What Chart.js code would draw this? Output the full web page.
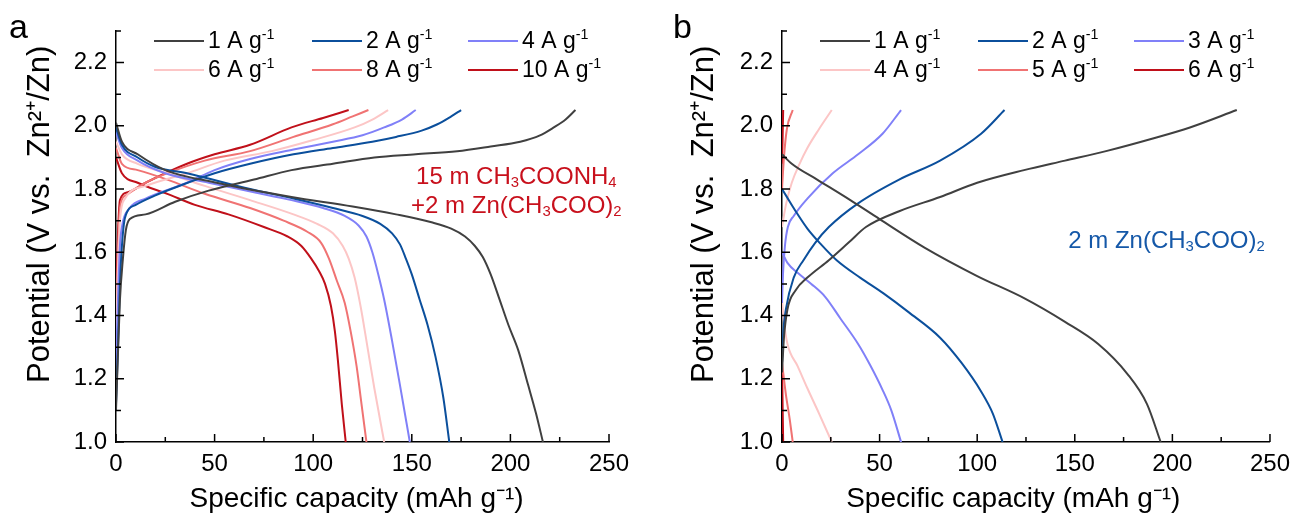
<!DOCTYPE html>
<html>
<head>
<meta charset="utf-8">
<script src="https://cdn.jsdelivr.net/npm/chart.js@4.4.1/dist/chart.umd.min.js"></script>
<style>
  body { margin: 0; background: #fff; width: 1298px; height: 521px; overflow: hidden; position: relative; font-family: "Liberation Sans", Arial, sans-serif; }
  .panel { position: absolute; top: 0; width: 649px; height: 521px; }
  .letter { position: absolute; top: 9px; font-size: 34px; line-height: 1; color: #000; }
</style>
</head>
<body>
<div class="panel" style="left:0"><canvas id="chartA" width="649" height="521"></canvas></div>
<div class="panel" style="left:649px"><canvas id="chartB" width="649" height="521"></canvas></div>
<div class="letter" style="left:9px">a</div>
<div class="letter" style="left:673px">b</div>
<script>
// axes
const xTicks = [0, 50, 100, 150, 200, 250];
const xMinor = [25, 75, 125, 175, 225];
const yTicks = [1.0, 1.2, 1.4, 1.6, 1.8, 2.0, 2.2];
const yMinor = [1.1, 1.3, 1.5, 1.7, 1.9, 2.1, 2.3];
const xTitle = "Specific capacity (mAh g⁻¹)";
const yTitle = "Potential (V vs.  Zn²⁺/Zn)";

const colors = ["#404040", "#0b4f9c", "#8080f8", "#fcc6c6", "#f07373", "#c0101a"];

// panel a : 15 m CH3COONH4 + 2 m Zn(CH3COO)2  -- [capacity, potential]
const ratesA = ["1 A g^{-1}", "2 A g^{-1}", "4 A g^{-1}", "6 A g^{-1}", "8 A g^{-1}", "10 A g^{-1}"];
const a1Dis = [[0,2.01],[3,1.95],[11,1.91],[25,1.86],[51,1.82],[89,1.775],[120,1.745],[142,1.72],[160,1.695],[170,1.675],[177,1.65],[182,1.62],[186,1.585],[190,1.53],[194,1.46],[199,1.37],[204,1.29],[209,1.18],[213,1.09],[216.5,1.0]];
const a1Chg = [[0,1.10],[1,1.28],[2,1.45],[3.5,1.58],[5,1.67],[7,1.705],[15,1.72],[30,1.76],[47,1.795],[70,1.83],[89,1.86],[110,1.88],[131,1.90],[152,1.91],[173,1.92],[190,1.935],[205,1.95],[215,1.97],[222,1.995],[228,2.02],[233,2.05]];
const a2Dis = [[0,1.995],[3,1.94],[11,1.90],[20,1.87],[36,1.85],[68,1.80],[90,1.77],[110,1.74],[125,1.715],[134,1.69],[140,1.66],[144,1.625],[147,1.58],[150,1.53],[154,1.45],[158,1.37],[162,1.27],[166,1.14],[169,1.0]];
const a2Chg = [[0,1.12],[1,1.30],[2,1.50],[3,1.62],[4.6,1.71],[10,1.75],[20,1.78],[30,1.805],[50,1.85],[68,1.88],[90,1.91],[110,1.93],[130,1.95],[142,1.965],[155,1.985],[163,2.005],[170,2.03],[175,2.05]];
const a4Dis = [[0,1.98],[3,1.93],[11,1.89],[25,1.85],[47,1.82],[70,1.79],[89,1.765],[105,1.74],[116,1.715],[123,1.685],[127,1.65],[130,1.60],[133,1.53],[136,1.45],[140,1.32],[144,1.18],[149,1.0]];
const a4Chg = [[0,1.24],[1,1.45],[2,1.62],[3,1.68],[7,1.74],[15,1.77],[36,1.82],[50,1.86],[68,1.895],[90,1.925],[110,1.95],[125,1.97],[136,1.995],[145,2.02],[152,2.05]];
const a6Dis = [[0,1.95],[3,1.91],[11,1.88],[26,1.85],[45,1.81],[68,1.765],[90,1.72],[102,1.69],[110,1.66],[115,1.62],[118,1.58],[121,1.52],[124,1.43],[127,1.32],[131,1.17],[136,1.0]];
const a6Chg = [[0,1.32],[1,1.55],[2,1.70],[4.6,1.77],[15,1.81],[36,1.85],[55,1.89],[79,1.92],[100,1.955],[121,1.995],[130,2.02],[138,2.05]];
const a8Dis = [[0,1.93],[3,1.88],[11,1.86],[26,1.83],[45,1.785],[68,1.74],[85,1.70],[97,1.665],[104,1.63],[108,1.58],[112,1.51],[116,1.44],[119,1.35],[122,1.24],[124.5,1.12],[127,1.0]];
const a8Chg = [[0,1.38],[1,1.60],[2,1.74],[5,1.78],[15,1.82],[26,1.85],[45,1.89],[68,1.92],[90,1.965],[110,2.005],[120,2.03],[128,2.05]];
const a10Dis = [[0,1.90],[3,1.85],[11,1.82],[26,1.785],[40,1.75],[57,1.72],[75,1.68],[87,1.65],[94,1.62],[99,1.58],[103,1.54],[106,1.50],[109,1.43],[111,1.35],[112.5,1.26],[114.5,1.12],[116.5,1.0]];
const a10Chg = [[0,1.45],[1,1.66],[2,1.765],[6,1.79],[15,1.82],[36,1.88],[50,1.91],[68,1.94],[89,1.995],[105,2.025],[118,2.05]];

// panel b : 2 m Zn(CH3COO)2
const ratesB = ["1 A g^{-1}", "2 A g^{-1}", "3 A g^{-1}", "4 A g^{-1}", "5 A g^{-1}", "6 A g^{-1}"];
const b1Dis = [[0,1.91],[5,1.88],[18,1.83],[35,1.765],[50,1.705],[73,1.615],[100,1.525],[124,1.455],[145,1.38],[162,1.31],[177,1.215],[187,1.12],[194,1.0]];
const b1Chg = [[0,1.22],[1,1.33],[2.8,1.42],[7,1.48],[13,1.52],[24,1.575],[34,1.63],[43,1.68],[60,1.73],[81,1.775],[100,1.82],[124,1.86],[145,1.89],[166,1.92],[190,1.96],[209,1.995],[233,2.05]];
const b2Dis = [[0,1.80],[2,1.78],[7,1.73],[13,1.675],[20,1.625],[28,1.575],[40,1.52],[52,1.47],[65,1.41],[81,1.33],[92,1.25],[102,1.16],[108,1.09],[113,1.0]];
const b2Chg = [[0,1.25],[0.7,1.35],[2,1.42],[6,1.52],[11,1.575],[17,1.63],[24,1.68],[39,1.755],[60,1.83],[81,1.89],[102,1.975],[114,2.05]];
const b3Dis = [[0,1.60],[3,1.565],[8,1.535],[15,1.50],[22,1.46],[30,1.39],[39,1.31],[45,1.245],[51.5,1.165],[56,1.10],[61,1.0]];
const b3Chg = [[0,1.44],[0.5,1.53],[1.5,1.62],[3,1.68],[6,1.715],[13,1.77],[26,1.85],[39,1.91],[51.5,1.975],[61,2.05]];
const b4Dis = [[0,1.45],[1,1.38],[2.8,1.31],[8,1.24],[13,1.17],[19,1.09],[25.5,1.0]];
const b4Chg = [[0,1.68],[2,1.75],[5,1.82],[9,1.88],[13,1.93],[19,1.99],[25.5,2.05]];
const b5Dis = [[0,1.25],[2,1.15],[4,1.07],[5.5,1.0]];
const b5Chg = [[0,1.80],[1,1.90],[2.5,1.99],[5.5,2.05]];
const b6Dis = [[0,1.25],[0.3,1.12],[0.6,1.0]];
const b6Chg = [[0,1.88],[0.3,1.96],[0.6,2.05]];

const curvesA = [[a1Dis, a1Chg], [a2Dis, a2Chg], [a4Dis, a4Chg], [a6Dis, a6Chg], [a8Dis, a8Chg], [a10Dis, a10Chg]];
const curvesB = [[b1Dis, b1Chg], [b2Dis, b2Chg], [b3Dis, b3Chg], [b4Dis, b4Chg], [b5Dis, b5Chg], [b6Dis, b6Chg]];

Chart.defaults.font.family = "'Liberation Sans', Arial, sans-serif";
Chart.defaults.color = "#000";

// text with _{sub} and ^{sup}
function richText(ctx, str, x, y, size, align, color) {
  const parts = [];
  str.replace(/([_^])\{([^}]*)\}|([^_^]+)/g, (m, k, s, t) => { parts.push(t ? { t: t, k: "" } : { t: s, k: k }); });
  let w = 0;
  parts.forEach(p => {
    p.size = p.k ? size * 0.62 : size;
    ctx.font = p.size + "px 'Liberation Sans', Arial, sans-serif";
    p.w = ctx.measureText(p.t).width;
    w += p.w;
  });
  let cx = align === "center" ? x - w / 2 : x;
  ctx.fillStyle = color;
  ctx.textAlign = "left";
  ctx.textBaseline = "alphabetic";
  parts.forEach(p => {
    ctx.font = p.size + "px 'Liberation Sans', Arial, sans-serif";
    const dy = p.k === "_" ? size * 0.12 : p.k === "^" ? -size * 0.4 : 0;
    ctx.fillText(p.t, cx, y + dy);
    cx += p.w;
  });
}

// inward ticks, axis titles, legend and notes
const decor = {
  id: "decor",
  afterDraw(chart, args, opts) {
    const { ctx, chartArea: ca, scales: { x, y } } = chart;
    ctx.save();
    ctx.strokeStyle = "#000";
    ctx.lineWidth = 1.5;
    ctx.beginPath();
    xTicks.forEach(v => { const px = x.getPixelForValue(v); ctx.moveTo(px, ca.bottom); ctx.lineTo(px, ca.bottom - 8); });
    xMinor.forEach(v => { const px = x.getPixelForValue(v); ctx.moveTo(px, ca.bottom); ctx.lineTo(px, ca.bottom - 5); });
    yTicks.forEach(v => { const py = y.getPixelForValue(v); ctx.moveTo(ca.left, py); ctx.lineTo(ca.left + 8, py); });
    yMinor.forEach(v => { const py = y.getPixelForValue(v); ctx.moveTo(ca.left, py); ctx.lineTo(ca.left + 5, py); });
    ctx.stroke();

    ctx.fillStyle = "#000";
    ctx.textAlign = "center";
    ctx.textBaseline = "middle";
    // x axis title, a little left of the axis middle
    ctx.font = "28px 'Liberation Sans', Arial, sans-serif";
    ctx.fillText(xTitle, x.getPixelForValue(opts.xTitleAt), 499);
    // y axis title, a bit above the axis middle
    ctx.save();
    ctx.translate(opts.titleX, y.getPixelForValue(1.72));
    ctx.rotate(-Math.PI / 2);
    ctx.font = "31px 'Liberation Sans', Arial, sans-serif";
    ctx.fillText(yTitle, 0, 0);
    ctx.restore();

    // legend, 3 columns x 2 rows
    const colX = [38, 196, 352];
    const rowY = [10, 39];
    opts.labels.forEach((lab, i) => {
      const lx = ca.left + colX[i % 3];
      const ly = ca.top + rowY[Math.floor(i / 3)];
      ctx.strokeStyle = colors[i];
      ctx.lineWidth = 2;
      ctx.beginPath();
      ctx.moveTo(lx, ly);
      ctx.lineTo(lx + 50, ly);
      ctx.stroke();
      richText(ctx, lab, lx + 54, ly + 7, 23, "left", "#000");
    });

    opts.notes.forEach(n => {
      richText(ctx, n.text, x.getPixelForValue(n.x), y.getPixelForValue(n.y), 24, "center", n.color);
    });
    ctx.restore();
  }
};

function makeChart(id, curves, labels, notes, box) {
  const datasets = [];
  curves.forEach((pair, i) => {
    pair.forEach(c => {
      datasets.push({
        label: labels[i],
        data: c.map(p => ({ x: p[0], y: p[1] })),
        borderColor: colors[i],
        borderWidth: 2,
        pointRadius: 0,
        showLine: true,
        cubicInterpolationMode: "monotone",
      });
    });
  });
  return new Chart(document.getElementById(id), {
    type: "scatter",
    data: { datasets: datasets },
    options: {
      responsive: false,
      animation: false,
      devicePixelRatio: 1,
      layout: { padding: { left: 0, right: box.right, top: 31, bottom: 0 } },
      plugins: {
        legend: { display: false },
        tooltip: { enabled: false },
        decor: { labels: labels, notes: notes, titleX: box.titleX, xTitleAt: box.xTitleAt },
      },
      scales: {
        x: {
          type: "linear",
          min: 0,
          max: 250,
          afterBuildTicks: s => { s.ticks = xTicks.map(v => ({ value: v })); },
          afterFit: s => { s.height = 79; },
          ticks: { font: { size: 24 }, padding: 8, color: "#000" },
          grid: { drawOnChartArea: false, drawTicks: false },
          border: { color: "#000", width: 1.5 },
        },
        y: {
          type: "linear",
          min: 1.0,
          max: 2.3,
          afterBuildTicks: s => { s.ticks = yTicks.map(v => ({ value: v })); },
          afterFit: s => { s.width = box.left; },
          ticks: { font: { size: 24 }, padding: 9, color: "#000", callback: v => v.toFixed(1) },
          grid: { drawOnChartArea: false, drawTicks: false },
          border: { color: "#000", width: 1.5 },
        },
      },
    },
    plugins: [decor],
  });
}

makeChart("chartA", curvesA, ratesA, [
  { text: "15 m CH_{3}COONH_{4}", x: 203, y: 1.815, color: "#c8101c" },
  { text: "+2 m Zn(CH_{3}COO)_{2}", x: 203, y: 1.725, color: "#c8101c" },
], { left: 116, right: 40, titleX: 40, xTitleAt: 122 });
makeChart("chartB", curvesB, ratesB, [
  { text: "2 m Zn(CH_{3}COO)_{2}", x: 197, y: 1.613, color: "#1558a8" },
], { left: 133, right: 25, titleX: 55, xTitleAt: 118.5 });
</script>
</body>
</html>
